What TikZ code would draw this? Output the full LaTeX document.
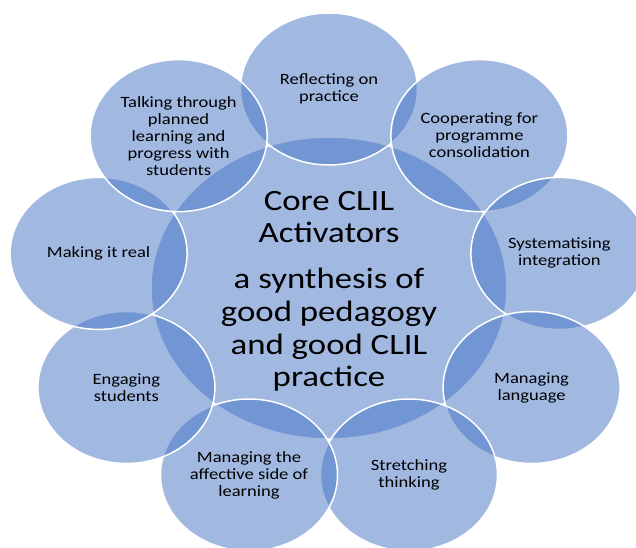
\documentclass[tikz,border=0pt]{standalone}
\usepackage{fontspec}
\setmainfont[FakeStretch=1.18]{Carlito}
\usetikzlibrary{shapes.geometric}
\definecolor{acc}{HTML}{4472C4}
\tikzset{
  blob/.style={ellipse, draw=white, line width=1.5pt, fill=acc, fill opacity=0.5,
    draw opacity=1, inner sep=0pt, minimum width=177pt, minimum height=152pt},
  core/.style={blob, minimum width=356pt, minimum height=302pt},
  lbl/.style={align=center, font=\fontsize{15.7}{17}\selectfont, text=black, inner sep=0pt},
  big/.style={align=center, font=\fontsize{29.5}{32.7}\selectfont, text=black, inner sep=0pt}
}
\begin{document}
\begin{tikzpicture}[x=1pt,y=-1pt]
\useasboundingbox (0,0) rectangle (636,547);
\clip (0,0) rectangle (636,547);
\node[core] (core) at (329,288) {};
\node[blob] (c1) at (329,89) {};
\node[blob] (c2) at (479.4,135.6) {};
\node[blob] (c3) at (559.4,253.4) {};
\node[blob] (c4) at (531.6,387.5) {};
\node[blob] (c5) at (409.0,475) {};
\node[blob] (c6) at (249.0,475) {};
\node[blob] (c7) at (126.4,387.5) {};
\node[blob] (c8) at (98.6,253.4) {};
\node[blob] (c9) at (178.6,135.6) {};
\node[big] (ct1) at (329,217) {Core CLIL\\Activators};
\node[big] (ct2) at (329,330) {a synthesis of\\good pedagogy\\and good CLIL\\practice};
\node[lbl] (t1) at (c1.center) {Reflecting on\\practice};
\node[lbl] (t2) at (c2.center) {Cooperating for\\programme\\consolidation};
\node[lbl] (t3) at (c3.center) {Systematising\\integration};
\node[lbl] (t4) at (c4.center) {Managing\\language};
\node[lbl] (t5) at (c5.center) {Stretching\\thinking};
\node[lbl] (t6) at (c6.center) {Managing the\\affective side of\\learning};
\node[lbl] (t7) at (c7.center) {Engaging\\students};
\node[lbl] (t8) at (c8.center) {Making it real};
\node[lbl] (t9) at (c9.center) {Talking through\\planned\\learning and\\progress with\\students};
\end{tikzpicture}
\end{document}
